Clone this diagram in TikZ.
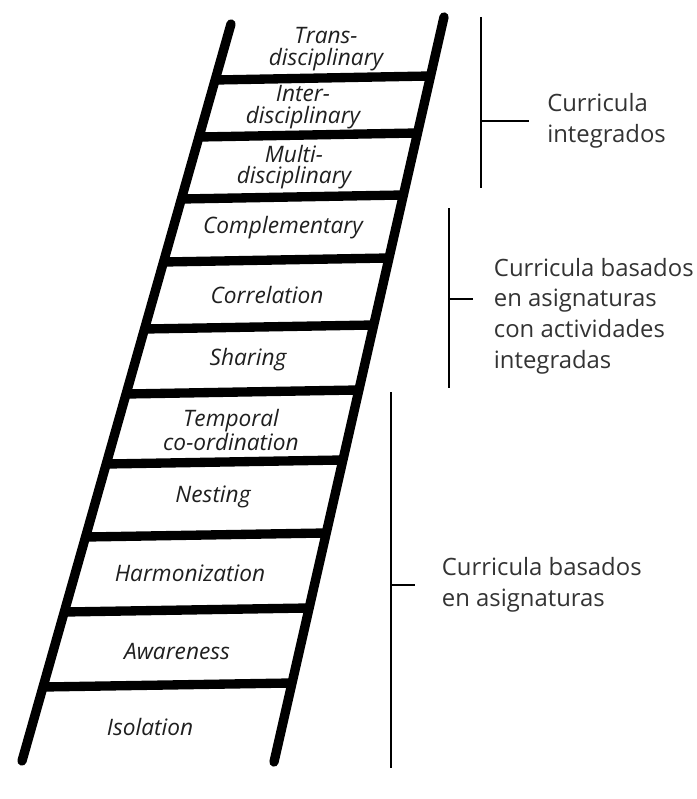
\documentclass[tikz,border=0pt]{standalone}
\usepackage{fontspec}
\setsansfont{Open Sans}
\usetikzlibrary{positioning, calc}

\begin{document}
\begin{tikzpicture}[x=0.75pt, y=-0.75pt, font=\sffamily,
    rail/.style={line width=7pt, line cap=round},
    rung/.style={line width=7pt},
    steplabel/.style={font=\sffamily\itshape\fontsize{17}{16}\selectfont, text=black!88, align=center, inner sep=0pt},
    bracket/.style={line width=1.5pt},
    grouplabel/.style={font=\sffamily\fontsize{17.9}{22.9}\selectfont, text=black!80, align=left, inner sep=0pt}]
  % Canvas in pixels (696 x 799), y grows downwards.
  \useasboundingbox (0,0) rectangle (696,799);
  % Rails.
  \coordinate (lt) at (231,24);
  \coordinate (lb) at (22,761);
  \coordinate (rt) at (444,17);
  \coordinate (rb) at (274,762);
  \draw[rail] (lt) -- (lb);
  \draw[rail] (rt) -- (rb);
  % Rungs, left end a little lower than the right one.
  \foreach \y in {78,135,197,260,327,392,462,535,610,685} {
    \pgfmathsetmacro\tl{(\y-24)/737}
    \pgfmathsetmacro\tr{(\y-17)/745}
    \draw[rung] ($(lt)!\tl!(lb)+(0,2)$) -- ($(rt)!\tr!(rb)+(0,-2)$);
  }
  % Steps of the ladder.
  \node[steplabel] (trans) at (326,49)  {Trans-\\disciplinary};
  \node[steplabel] (inter) at (303,107) {Inter-\\disciplinary};
  \node[steplabel] (multi) at (294,167) {Multi-\\disciplinary};
  \node[steplabel] (compl) at (283,228) {Complementary};
  \node[steplabel] (corr)  at (267,295) {Correlation};
  \node[steplabel] (shar)  at (248,360) {Sharing};
  \node[steplabel] (temp)  at (231,430) {Temporal\\co-ordination};
  \node[steplabel] (nest)  at (213,497) {Nesting};
  \node[steplabel] (harm)  at (190,573) {Harmonization};
  \node[steplabel] (awar)  at (177,652) {Awareness};
  \node[steplabel] (isol)  at (150,727) {Isolation};
  % Group brackets.
  \coordinate (g1top) at (481,17);  \coordinate (g1bot) at (481,188);
  \coordinate (g1mid) at (481,121); \coordinate (g1tip) at (529,121);
  \draw[bracket] (g1top) -- (g1bot);
  \draw[bracket] (g1mid) -- (g1tip);
  \node[grouplabel, right=13.5pt of g1tip] (g1) {Curricula\\integrados};
  \coordinate (g2top) at (449,208); \coordinate (g2bot) at (449,388);
  \coordinate (g2mid) at (449,299); \coordinate (g2tip) at (473,299);
  \draw[bracket] (g2top) -- (g2bot);
  \draw[bracket] (g2mid) -- (g2tip);
  \node[grouplabel, right=15.5pt of g2tip, yshift=-12.75pt] (g2) {Curricula basados\\en asignaturas\\con actividades\\integradas};
  \coordinate (g3top) at (391,392); \coordinate (g3bot) at (391,768);
  \coordinate (g3mid) at (391,585); \coordinate (g3tip) at (415,585);
  \draw[bracket] (g3top) -- (g3bot);
  \draw[bracket] (g3mid) -- (g3tip);
  \node[grouplabel, right=20pt of g3tip] (g3) {Curricula basados\\en asignaturas};
\end{tikzpicture}
\end{document}
